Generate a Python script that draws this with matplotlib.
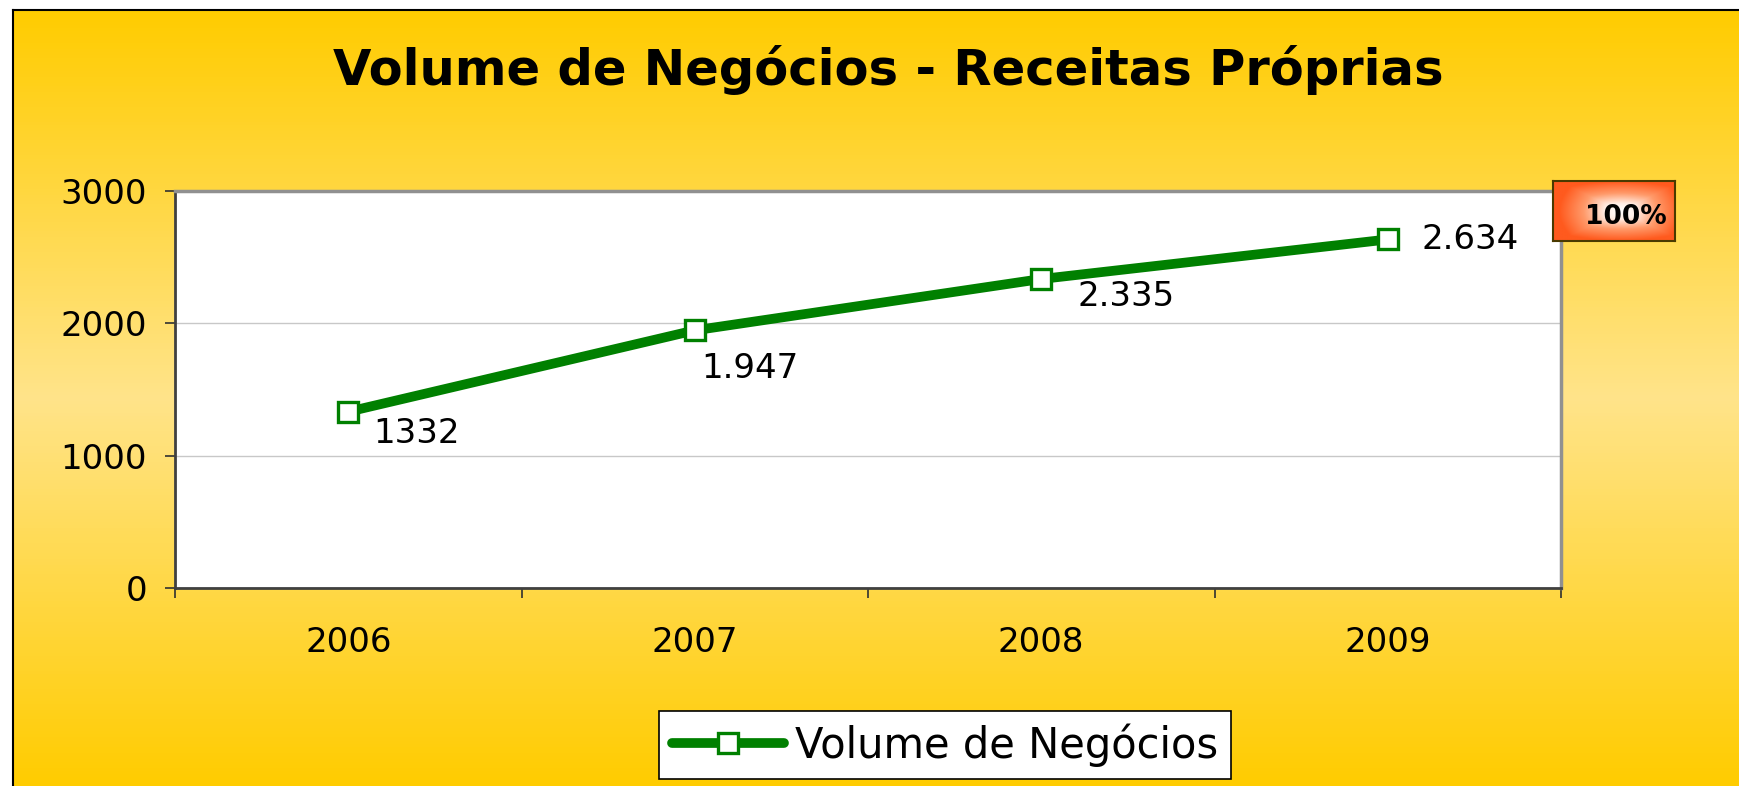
import numpy as np
import matplotlib.pyplot as plt
from matplotlib.colors import LinearSegmentedColormap

plt.rcParams['font.family'] = ['DejaVu Sans']

years = ['2006', '2007', '2008', '2009']
volume = [1332, 1947, 2335, 2634]
point_labels = ['1332', '1.947', '2.335', '2.634']
series_name = 'Volume de Negócios'
title = 'Volume de Negócios - Receitas Próprias'
badge_text = '100%'

W, H = 1739, 786
fig = plt.figure(figsize=(W / 100, H / 100), dpi=100)
fig.patch.set_facecolor('white')

# background panel with vertical gold gradient
bg = fig.add_axes([13 / W, 0, 1 - 13 / W, 1 - 10 / H])
bg_cmap = LinearSegmentedColormap.from_list(
    'gold', [(0, '#FFCC00'), (0.5, '#FFE48A'), (1, '#FFCC00')])
grad = np.linspace(0, 1, 256).reshape(-1, 1)
bg.imshow(grad, cmap=bg_cmap, aspect='auto', extent=[0, 1, 0, 1])
bg.set_xlim(0, 1)
bg.set_ylim(0, 1)
bg.set_xticks([])
bg.set_yticks([])
for s in ['right', 'bottom']:
    bg.spines[s].set_visible(False)
for s in ['left', 'top']:
    bg.spines[s].set_color('black')
    bg.spines[s].set_linewidth(1.5)

fig.text(888 / W, 1 - 70 / H, title, ha='center', va='center',
         fontsize=35.7, fontweight='bold', color='black')

# main plot
ax = fig.add_axes([175 / W, 1 - 588 / H, (1561 - 175) / W, (588 - 191) / H])
ax.set_facecolor('white')
x = np.arange(1, len(years) + 1)
ax.plot(x, volume, color='#008000', lw=7, marker='s', markersize=14,
        markerfacecolor='white', markeredgecolor='#008000', markeredgewidth=2.4,
        solid_capstyle='round', label=series_name, zorder=3)

offsets = [(68, -22), (55, -38), (85, -17), (82, 0)]
for xi, yi, lab, (dx, dy) in zip(x, volume, point_labels, offsets):
    ax.annotate(lab, (xi, yi), xytext=(dx, dy), textcoords='offset pixels',
                ha='center', va='center', fontsize=24.5, color='black')

ax.set_xlim(0.5, len(years) + 0.5)
ax.set_ylim(0, 3000)
ax.set_yticks([0, 1000, 2000, 3000])
ax.set_yticklabels(['0', '1000', '2000', '3000'])
ax.yaxis.grid(True, color='#C8C8C8', lw=1)
ax.set_axisbelow(True)
ax.set_xticks(x)
ax.set_xticklabels(years)
ax.set_xticks(np.arange(0.5, len(years) + 1, 1), minor=True)
ax.tick_params(axis='x', which='major', length=0, pad=27, labelsize=24.5)
ax.tick_params(axis='x', which='minor', length=7, width=1.2, color='#303030', direction='out')
ax.tick_params(axis='y', length=7, width=1.2, color='#303030', pad=13, labelsize=24.5)
ax.spines['left'].set_color('#404040')
ax.spines['bottom'].set_color('#404040')
ax.spines['left'].set_linewidth(2)
ax.spines['bottom'].set_linewidth(2)
ax.spines['top'].set_color('#909090')
ax.spines['right'].set_color('#909090')
ax.spines['top'].set_linewidth(2.5)
ax.spines['right'].set_linewidth(2.5)

leg = ax.legend(loc='center', bbox_to_anchor=(945 / W, 1 - 745 / H),
                bbox_transform=fig.transFigure, fontsize=30, frameon=True,
                fancybox=False, edgecolor='black', handlelength=2.7,
                handletextpad=0.25, borderpad=0.3, borderaxespad=0)
leg.get_frame().set_linewidth(1.2)
leg.get_frame().set_facecolor('white')
leg.get_frame().set_alpha(1)

# "100%" badge with radial orange gradient
bx = fig.add_axes([1553 / W, 1 - 241 / H, (1675 - 1553) / W, (241 - 181) / H])
gx, gy = np.meshgrid(np.linspace(-1.1, 0.9, 200), np.linspace(-1, 1, 100))
r = np.clip(np.maximum(np.abs(gx), np.abs(gy)) * 0.5 + np.sqrt(gx ** 2 + gy ** 2) * 0.5, 0, 1)
badge_cmap = LinearSegmentedColormap.from_list(
    'badge', [(0, '#FFFFFF'), (0.25, '#FFEDE4'), (0.6, '#FF9A6A'), (1, '#FF5A1E')])
bx.imshow(r, cmap=badge_cmap, aspect='auto', extent=[0, 1, 0, 1])
bx.set_xlim(0, 1)
bx.set_ylim(0, 1)
bx.set_xticks([])
bx.set_yticks([])
for s in bx.spines.values():
    s.set_color('#4A3A00')
    s.set_linewidth(1.5)
bx.text(0.6, 0.4, badge_text, ha='center', va='center', fontsize=19,
        fontweight='bold', color='black')

fig.savefig('out.png', dpi=100)
